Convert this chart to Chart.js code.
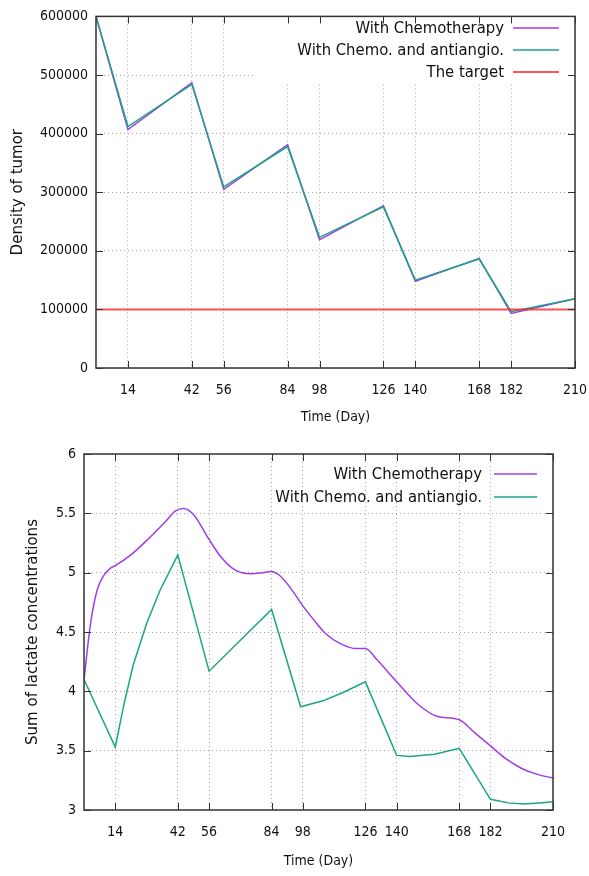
<!DOCTYPE html>
<html>
<head>
<meta charset="utf-8">
<title>Tumor density and lactate</title>
<script src="https://cdn.jsdelivr.net/npm/chart.js@4/dist/chart.umd.min.js"></script>
<style>
  body { margin: 0; background: #fff; }
  .plot { position: absolute; left: 0; width: 589px; }
  #tumorPlot { top: 0; height: 432px; }
  #lactatePlot { top: 436px; height: 440px; }
</style>
</head>
<body>
<div class="plot" id="tumorPlot"><canvas id="tumorChart"></canvas></div>
<div class="plot" id="lactatePlot"><canvas id="lactateChart"></canvas></div>
<script>
// x ticks shared by both plots (treatment days)
const dayTicks = [14, 42, 56, 84, 98, 126, 140, 168, 182, 210];

// top plot: density of tumor
const tumorDays = [0, 14, 42, 56, 84, 98, 126, 140, 168, 182, 210];
const tumorChemo = [600000, 407000, 487000, 305000, 381000, 219000, 277000, 148000, 187000, 93000, 118000];
const tumorChemoAnti = [600000, 412000, 484000, 309000, 378000, 223000, 275000, 150000, 186000, 96000, 118000];
const targetDensity = 100000;

// bottom plot: sum of lactate concentrations
const lactateChemoDays = [0, 3, 6, 9, 12, 14, 21, 28, 36, 41, 44.5, 49, 56, 61, 67, 75, 80, 84, 88, 92.5, 98, 103, 108, 115, 122, 126, 131, 140, 149, 158, 168, 175, 182, 189, 196, 203, 210];
const lactateChemo = [4.10, 4.58, 4.86, 4.98, 5.04, 5.06, 5.15, 5.27, 5.42, 5.52, 5.54, 5.49, 5.28, 5.14, 5.03, 4.99, 5.00, 5.01, 4.97, 4.87, 4.72, 4.60, 4.49, 4.40, 4.36, 4.36, 4.27, 4.08, 3.90, 3.79, 3.76, 3.65, 3.54, 3.43, 3.35, 3.30, 3.27];
const lactateAntiDays = [0, 14, 18, 22, 28, 34, 42, 56, 84, 97, 107, 116, 126, 140, 146, 157, 168, 182, 190, 197, 204, 210];
const lactateAnti = [4.10, 3.53, 3.90, 4.22, 4.57, 4.85, 5.15, 4.17, 4.69, 3.87, 3.92, 3.99, 4.08, 3.46, 3.45, 3.47, 3.52, 3.09, 3.06, 3.05, 3.06, 3.07];

const PURPLE = '#a03de6';
const GREEN = '#1aa584';
const RED = 'rgba(255, 30, 30, 0.75)';
const TICK_FONT = { family: '"DejaVu Sans Condensed", "Liberation Sans Narrow", sans-serif', size: 14 };

const toPoints = (xs, ys) => xs.map((x, i) => ({ x: x, y: ys[i] }));

// gnuplot style border with inward ticks on all four sides
const frame = {
    id: 'frame',
    afterDatasetsDraw(chart) {
        const { ctx, chartArea: a, scales: { x, y } } = chart;
        ctx.save();
        ctx.strokeStyle = '#333';
        ctx.lineWidth = 1;
        ctx.beginPath();
        x.ticks.forEach(t => {
            const px = Math.round(x.getPixelForValue(t.value)) + 0.5;
            ctx.moveTo(px, a.bottom); ctx.lineTo(px, a.bottom - 7);
            ctx.moveTo(px, a.top); ctx.lineTo(px, a.top + 7);
        });
        y.ticks.forEach(t => {
            const py = Math.round(y.getPixelForValue(t.value)) + 0.5;
            ctx.moveTo(a.left, py); ctx.lineTo(a.left + 7, py);
            ctx.moveTo(a.right, py); ctx.lineTo(a.right - 7, py);
        });
        ctx.stroke();
        ctx.lineWidth = 1.5;
        ctx.strokeRect(a.left, a.top, a.right - a.left, a.bottom - a.top);
        ctx.restore();
    }
};

// key in the upper right: text right aligned, sample line after it
const key = {
    id: 'key',
    beforeDatasetsDraw(chart, args, opts) {
        if (!opts.clear) return;
        const { ctx, chartArea: a } = chart;
        ctx.save();
        ctx.fillStyle = '#fff';
        ctx.fillRect(opts.clear[0], a.top + 1, a.right - opts.clear[0] - 1, opts.clear[1] - a.top);
        ctx.restore();
    },
    afterDraw(chart, args, opts) {
        const { ctx } = chart;
        ctx.save();
        ctx.font = '16.5px "DejaVu Sans Condensed", "Liberation Sans Narrow", sans-serif';
        ctx.textAlign = 'right';
        ctx.textBaseline = 'middle';
        chart.data.datasets.forEach((ds, i) => {
            const yy = opts.top + i * opts.step;
            ctx.fillStyle = '#111';
            ctx.fillText(ds.label, opts.textRight, yy + 1);
            ctx.strokeStyle = ds.borderColor;
            ctx.lineWidth = ds.borderWidth;
            ctx.beginPath();
            ctx.moveTo(opts.lineFrom, yy);
            ctx.lineTo(opts.lineTo, yy);
            ctx.stroke();
        });
        ctx.restore();
    }
};

function dayAxis(height) {
    return {
        type: 'linear', min: 0, max: 210,
        afterBuildTicks: s => { s.ticks = dayTicks.map(v => ({ value: v })); },
        afterFit: s => { s.height = height; s.paddingLeft = 0; s.paddingRight = 0; },
        grid: { color: '#a8a8a8', drawTicks: false },
        border: { display: false, dash: [1, 3] },
        ticks: { font: TICK_FONT, color: '#111', padding: 14, maxRotation: 0, callback: v => String(v) },
        title: { display: true, text: 'Time (Day)', font: TICK_FONT, color: '#111', padding: { top: 0, bottom: 6 } }
    };
}

function valueAxis(width, min, max, step, label, titlePad) {
    return {
        min: min, max: max,
        afterFit: s => { s.width = width; },
        grid: { color: '#a8a8a8', drawTicks: false },
        border: { display: false, dash: [1, 3] },
        ticks: { stepSize: step, font: TICK_FONT, color: '#111', padding: 8, callback: v => String(v) },
        title: { display: true, text: label, font: { family: '"DejaVu Sans", sans-serif', size: 15 }, color: '#111', padding: { top: titlePad, bottom: 0 } }
    };
}

Chart.defaults.animation = false;
Chart.defaults.elements.point.radius = 0;

new Chart(document.getElementById('tumorChart'), {
    type: 'line',
    data: {
        datasets: [
            { label: 'With Chemotherapy', data: toPoints(tumorDays, tumorChemo), borderColor: PURPLE, borderWidth: 1.5, tension: 0, order: 2 },
            { label: 'With Chemo. and antiangio.', data: toPoints(tumorDays, tumorChemoAnti), borderColor: GREEN, borderWidth: 1.5, tension: 0, order: 1 },
            { label: 'The target', data: toPoints([0, 210], [targetDensity, targetDensity]), borderColor: RED, borderWidth: 2, tension: 0, order: 0 }
        ]
    },
    options: {
        responsive: true,
        maintainAspectRatio: false,
        layout: { padding: { top: 10, right: 14, left: 0, bottom: 0 } },
        plugins: {
            legend: { display: false },
            tooltip: { enabled: false },
            key: { top: 28, step: 22, textRight: 504, lineFrom: 513, lineTo: 559, clear: [256, 83] }
        },
        scales: {
            x: dayAxis(64),
            y: valueAxis(96, 0, 600000, 100000, 'Density of tumor', 9)
        }
    },
    plugins: [frame, key]
});

new Chart(document.getElementById('lactateChart'), {
    type: 'line',
    data: {
        datasets: [
            { label: 'With Chemotherapy', data: toPoints(lactateChemoDays, lactateChemo), borderColor: PURPLE, borderWidth: 1.5, cubicInterpolationMode: 'monotone' },
            { label: 'With Chemo. and antiangio.', data: toPoints(lactateAntiDays, lactateAnti), borderColor: GREEN, borderWidth: 1.5, tension: 0 }
        ]
    },
    options: {
        responsive: true,
        maintainAspectRatio: false,
        layout: { padding: { top: 18, right: 36, left: 0, bottom: 0 } },
        plugins: {
            legend: { display: false },
            tooltip: { enabled: false },
            key: { top: 38, step: 23, textRight: 482, lineFrom: 494, lineTo: 537 }
        },
        scales: {
            x: dayAxis(66),
            y: valueAxis(84, 3, 6, 0.5, 'Sum of lactate concentrations', 24)
        }
    },
    plugins: [frame, key]
});
</script>
</body>
</html>
